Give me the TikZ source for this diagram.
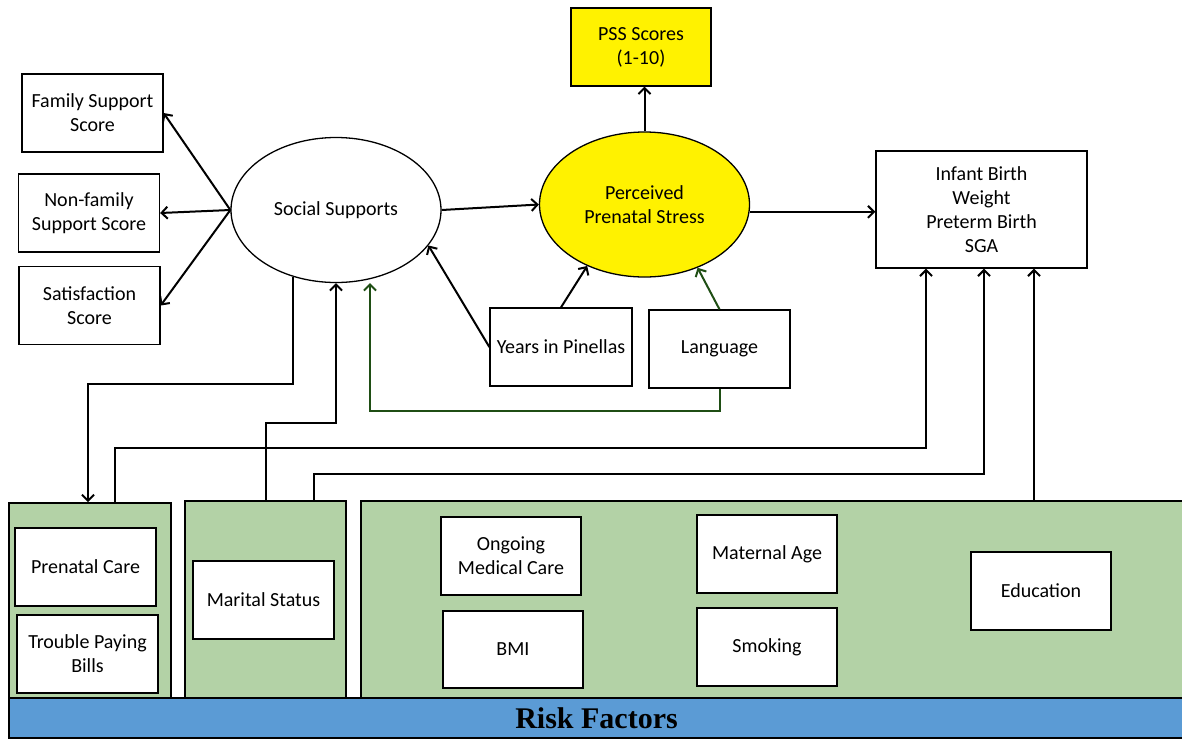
\documentclass[tikz,border=0pt]{standalone}
\usepackage{fontspec}
\setmainfont{Carlito}
\newfontfamily\riskfont{Liberation Serif}
\usetikzlibrary{arrows.meta,shapes.geometric}
\definecolor{boxgreen}{HTML}{B3D2A6}
\definecolor{barblue}{HTML}{5B9BD5}
\definecolor{pathgreen}{HTML}{1F4E14}

\begin{document}
\begin{tikzpicture}[x=1pt,y=-1pt,
    box/.style={draw,line width=1.3pt,fill=white,align=center,inner sep=0pt,
      minimum width=141pt,minimum height=78pt,font=\fontsize{20}{24}\selectfont},
    oval/.style={ellipse,draw,line width=1.3pt,align=center,inner sep=0pt,
      minimum width=210pt,minimum height=145pt,font=\fontsize{20}{24}\selectfont},
    panel/.style={draw,line width=1.8pt,fill=boxgreen,inner sep=0pt},
    arr/.style={line width=2pt,-{Straight Barb[length=6pt,width=12pt]}},
    garr/.style={arr,draw=pathgreen}]
    \useasboundingbox (0,0) rectangle (1182,740);

    \node[panel,minimum width=162pt,minimum height=195pt] (p1) at (90,600.5) {};
    \node[panel,minimum width=161pt,minimum height=197pt] (p2) at (265.5,599.5) {};
    \node[panel,minimum width=823pt,minimum height=197pt] (p3) at (772.5,599.5) {};
    \node[panel,fill=barblue,minimum width=1175pt,minimum height=40pt,
      font=\riskfont\bfseries\fontsize{30}{32}\selectfont] (risk) at (596.5,718) {Risk Factors};

    \node[box] (fam) at (92.5,113) {Family Support\\Score};
    \node[box] (nonfam) at (89,213) {Non-family\\Support Score};
    \node[box] (satis) at (89.5,305.5) {Satisfaction\\Score};
    \node[oval] (ss) at (336,210) {Social Supports};
    \node[oval,fill=yellow] (ps) at (644.5,204.5) {Perceived\\Prenatal Stress};
    \node[box,fill=yellow,minimum width=140pt] (pss) at (641,47) {PSS Scores\\(1-10)};
    \node[box,minimum width=211pt,minimum height=117pt] (infant) at (981.5,209.5) {Infant Birth\\Weight\\Preterm Birth\\SGA};
    \node[box,minimum width=142pt] (years) at (561,347) {Years in Pinellas};
    \node[box] (lang) at (719.5,349) {Language};
    \node[box] (prenatal) at (85.5,567) {Prenatal Care};
    \node[box] (bills) at (87.5,654) {Trouble Paying\\Bills};
    \node[box] (marital) at (263.5,600) {Marital Status};
    \node[box,minimum width=140pt] (ongoing) at (511,556) {Ongoing\\Medical Care};
    \node[box,minimum width=140pt,minimum height=77pt] (bmi) at (513,649.5) {BMI};
    \node[box,minimum width=140pt] (matage) at (767,554) {Maternal Age};
    \node[box,minimum width=140pt] (smoking) at (767,647) {Smoking};
    \node[box,minimum width=140pt] (educ) at (1041,591) {Education};

    \coordinate (k1) at (115,448);
    \coordinate (k1e) at (926,448);
    \coordinate (k2) at (314,474);
    \coordinate (k2e) at (984,474);
    \coordinate (k3) at (1034,474);
    \coordinate (k5) at (370,411);
    \coordinate (k6) at (88,384);
    \coordinate (k7) at (266,423);

    \draw[arr] (ss.west) -- (fam.east);
    \draw[arr] (ss.west) -- (nonfam.east);
    \draw[arr] (ss.west) -- (satis.east);
    \draw[arr] (ss.east) -- (ps.west);
    \draw[arr] (ps.north) -- (ps.north |- pss.south);
    \draw[arr] (ps.-4) -- (ps.-4 -| infant.west);
    \draw[arr] (years.west) -- (ss.-21);
    \draw[arr] (years.north) -- (ps.227);
    \draw[garr] (lang.north) -- (ps.310);
    \draw[garr] (lang.south) |- (k5) -- (k5 |- ss.south);
    \draw[arr] (ss.-123) |- (k6) -- (k6 |- p1.north);
    \draw[arr] (p2.north -| k7) -- (k7) -| (ss.south);
    \draw[arr] (p1.north -| k1) -- (k1) -- (k1e) -- (k1e |- infant.south);
    \draw[arr] (p2.north -| k2) -- (k2) -- (k2e) -- (k2e |- infant.south);
    \draw[arr] (p3.north -| k3) -- (k3 |- infant.south);
\end{tikzpicture}
\end{document}
